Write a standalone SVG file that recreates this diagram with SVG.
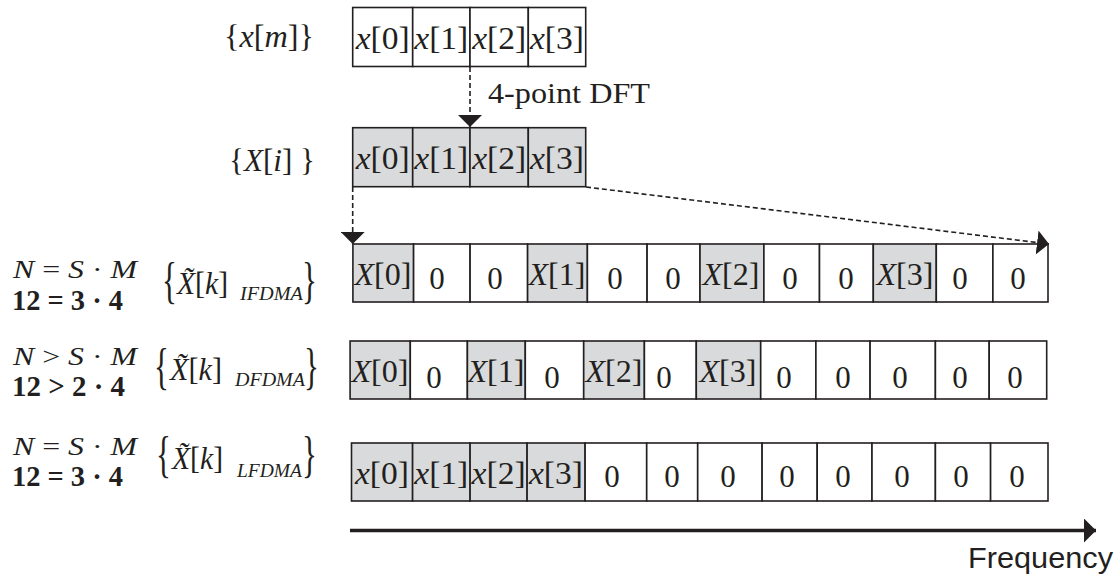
<svg xmlns="http://www.w3.org/2000/svg" width="1120" height="579" viewBox="0 0 1120 579">
<style>
text{font-family:"Liberation Serif","Times New Roman",serif;fill:#231f20}
.it{font-style:italic}
.cell{stroke:#231f20;stroke-width:1.6;fill:#ffffff}
.g{fill:#d9dadb}
.ct{font-size:31px;text-anchor:middle}
.zero{font-size:31px;text-anchor:middle}
.eq{font-size:26px}
.num{font-size:30px;font-weight:bold}
.br{font-size:50px}
.sub{font-size:18px;font-style:italic}
.dash{stroke:#231f20;stroke-width:1.6;stroke-dasharray:5 3;fill:none}
.freq{font-family:"Liberation Sans",Arial,sans-serif;font-size:29px}
</style>
<defs>
<marker id="ah" markerUnits="userSpaceOnUse" viewBox="0 0 12 24" refX="12" refY="12" markerWidth="12" markerHeight="24" orient="auto">
<path d="M0,0 L12,12 L0,24 z" fill="#231f20"/>
</marker>
</defs>

<g id="xm-label">
<text x="224" y="47" font-size="32" textLength="90" lengthAdjust="spacingAndGlyphs">{<tspan class="it">x</tspan>[<tspan class="it">m</tspan>]}</text>
</g>
<g id="xm-row">
<rect class="cell" x="352.7" y="7.5" width="60" height="59"/>
<rect class="cell" x="412.7" y="7.5" width="57.3" height="59"/>
<rect class="cell" x="470" y="7.5" width="58.3" height="59"/>
<rect class="cell" x="528.3" y="7.5" width="57.4" height="59"/>
<text class="ct" x="382.7" y="49" textLength="54" lengthAdjust="spacingAndGlyphs"><tspan class="it">x</tspan>[0]</text>
<text class="ct" x="441.3" y="49" textLength="54" lengthAdjust="spacingAndGlyphs"><tspan class="it">x</tspan>[1]</text>
<text class="ct" x="499.2" y="49" textLength="54" lengthAdjust="spacingAndGlyphs"><tspan class="it">x</tspan>[2]</text>
<text class="ct" x="557" y="49" textLength="54" lengthAdjust="spacingAndGlyphs"><tspan class="it">x</tspan>[3]</text>
</g>

<g id="dft-label">
<text x="488" y="103" font-size="29" textLength="162" lengthAdjust="spacingAndGlyphs">4-point DFT</text>
</g>

<g id="Xi-label">
<text x="229" y="171" font-size="32" textLength="86" lengthAdjust="spacingAndGlyphs">{<tspan class="it">X</tspan>[<tspan class="it">i</tspan>] }</text>
</g>
<g id="Xi-row">
<rect class="cell g" x="352.7" y="127.7" width="60" height="59"/>
<rect class="cell g" x="412.7" y="127.7" width="57.3" height="59"/>
<rect class="cell g" x="470" y="127.7" width="58.3" height="59"/>
<rect class="cell g" x="528.3" y="127.7" width="57.4" height="59"/>
<text class="ct" x="382.7" y="169" textLength="54" lengthAdjust="spacingAndGlyphs"><tspan class="it">x</tspan>[0]</text>
<text class="ct" x="441.3" y="169" textLength="54" lengthAdjust="spacingAndGlyphs"><tspan class="it">x</tspan>[1]</text>
<text class="ct" x="499.2" y="169" textLength="54" lengthAdjust="spacingAndGlyphs"><tspan class="it">x</tspan>[2]</text>
<text class="ct" x="557" y="169" textLength="54" lengthAdjust="spacingAndGlyphs"><tspan class="it">x</tspan>[3]</text>
</g>

<g id="ifdma-label">
<text class="eq" x="13" y="278" textLength="124" lengthAdjust="spacingAndGlyphs"><tspan class="it">N</tspan> = <tspan class="it">S</tspan> · <tspan class="it">M</tspan></text>
<text class="num" x="12" y="310" textLength="111" lengthAdjust="spacingAndGlyphs">12 = 3 · 4</text>
<text class="br" transform="translate(162,297) scale(0.62,1)">{</text>
<text x="177" y="294" font-size="31" textLength="51" lengthAdjust="spacingAndGlyphs"><tspan class="it">X&#x303;</tspan>[<tspan class="it">k</tspan>]</text>
<text class="sub" x="240" y="300" textLength="63" lengthAdjust="spacingAndGlyphs">IFDMA</text>
<text class="br" transform="translate(302,297) scale(0.62,1)">}</text>
</g>
<g id="ifdma-row">
<rect class="cell g" x="352.9" y="244" width="60.7" height="58"/>
<rect class="cell" x="413.6" y="244" width="56.5" height="58"/>
<rect class="cell" x="470.1" y="244" width="57.5" height="58"/>
<rect class="cell g" x="527.6" y="244" width="59.8" height="58"/>
<rect class="cell" x="587.4" y="244" width="59.7" height="58"/>
<rect class="cell" x="647.1" y="244" width="52.9" height="58"/>
<rect class="cell g" x="700" y="244" width="63.9" height="58"/>
<rect class="cell" x="763.9" y="244" width="55.6" height="58"/>
<rect class="cell" x="819.5" y="244" width="53.8" height="58"/>
<rect class="cell g" x="873.3" y="244" width="63" height="58"/>
<rect class="cell" x="936.3" y="244" width="56.6" height="58"/>
<rect class="cell" x="992.9" y="244" width="55.1" height="58"/>
<text class="ct" x="383" y="285" textLength="57" lengthAdjust="spacingAndGlyphs"><tspan class="it">X</tspan>[0]</text>
<text class="zero" x="437" y="289">0</text>
<text class="zero" x="495" y="289">0</text>
<text class="ct" x="557" y="285" textLength="57" lengthAdjust="spacingAndGlyphs"><tspan class="it">X</tspan>[1]</text>
<text class="zero" x="615" y="289">0</text>
<text class="zero" x="673" y="289">0</text>
<text class="ct" x="731" y="285" textLength="57" lengthAdjust="spacingAndGlyphs"><tspan class="it">X</tspan>[2]</text>
<text class="zero" x="790" y="289">0</text>
<text class="zero" x="846" y="289">0</text>
<text class="ct" x="905" y="285" textLength="57" lengthAdjust="spacingAndGlyphs"><tspan class="it">X</tspan>[3]</text>
<text class="zero" x="960" y="289">0</text>
<text class="zero" x="1018" y="289">0</text>
</g>

<g id="dfdma-label">
<text class="eq" x="13" y="365" textLength="124" lengthAdjust="spacingAndGlyphs"><tspan class="it">N</tspan> &gt; <tspan class="it">S</tspan> · <tspan class="it">M</tspan></text>
<text class="num" x="12" y="396" textLength="113" lengthAdjust="spacingAndGlyphs">12 &gt; 2 · 4</text>
<text class="br" transform="translate(154,383) scale(0.62,1)">{</text>
<text x="170" y="380" font-size="31" textLength="52" lengthAdjust="spacingAndGlyphs"><tspan class="it">X&#x303;</tspan>[<tspan class="it">k</tspan>]</text>
<text class="sub" x="235" y="386" textLength="70" lengthAdjust="spacingAndGlyphs">DFDMA</text>
<text class="br" transform="translate(304,383) scale(0.62,1)">}</text>
</g>
<g id="dfdma-row">
<rect class="cell g" x="350.1" y="341" width="60.2" height="58"/>
<rect class="cell" x="410.3" y="341" width="57.1" height="58"/>
<rect class="cell g" x="467.4" y="341" width="57.9" height="58"/>
<rect class="cell" x="525.3" y="341" width="58.4" height="58"/>
<rect class="cell g" x="583.7" y="341" width="60.7" height="58"/>
<rect class="cell" x="644.4" y="341" width="51.9" height="58"/>
<rect class="cell g" x="696.3" y="341" width="64.4" height="58"/>
<rect class="cell" x="760.7" y="341" width="55.2" height="58"/>
<rect class="cell" x="815.9" y="341" width="54.2" height="58"/>
<rect class="cell" x="870.1" y="341" width="65.3" height="58"/>
<rect class="cell" x="935.4" y="341" width="53.8" height="58"/>
<rect class="cell" x="989.2" y="341" width="57.5" height="58"/>
<text class="ct" x="380" y="382" textLength="57" lengthAdjust="spacingAndGlyphs"><tspan class="it">X</tspan>[0]</text>
<text class="zero" x="434" y="388">0</text>
<text class="ct" x="496" y="382" textLength="57" lengthAdjust="spacingAndGlyphs"><tspan class="it">X</tspan>[1]</text>
<text class="zero" x="552" y="388">0</text>
<text class="ct" x="614" y="382" textLength="57" lengthAdjust="spacingAndGlyphs"><tspan class="it">X</tspan>[2]</text>
<text class="zero" x="664" y="388">0</text>
<text class="ct" x="728" y="382" textLength="57" lengthAdjust="spacingAndGlyphs"><tspan class="it">X</tspan>[3]</text>
<text class="zero" x="784" y="388">0</text>
<text class="zero" x="843" y="388">0</text>
<text class="zero" x="900" y="388">0</text>
<text class="zero" x="960" y="388">0</text>
<text class="zero" x="1015" y="388">0</text>
</g>

<g id="lfdma-label">
<text class="eq" x="13" y="455" textLength="124" lengthAdjust="spacingAndGlyphs"><tspan class="it">N</tspan> = <tspan class="it">S</tspan> · <tspan class="it">M</tspan></text>
<text class="num" x="12" y="486" textLength="111" lengthAdjust="spacingAndGlyphs">12 = 3 · 4</text>
<text class="br" transform="translate(156,471) scale(0.62,1)">{</text>
<text x="172" y="469" font-size="31" textLength="51" lengthAdjust="spacingAndGlyphs"><tspan class="it">X&#x303;</tspan>[<tspan class="it">k</tspan>]</text>
<text class="sub" x="237" y="477" textLength="65" lengthAdjust="spacingAndGlyphs">LFDMA</text>
<text class="br" transform="translate(302,471) scale(0.62,1)">}</text>
</g>
<g id="lfdma-row">
<rect class="cell g" x="351.5" y="443" width="61.1" height="58"/>
<rect class="cell g" x="412.6" y="443" width="57.5" height="58"/>
<rect class="cell g" x="470.1" y="443" width="57" height="58"/>
<rect class="cell g" x="527.1" y="443" width="58" height="58"/>
<rect class="cell" x="585.1" y="443" width="61.6" height="58"/>
<rect class="cell" x="646.7" y="443" width="51" height="58"/>
<rect class="cell" x="697.7" y="443" width="64.4" height="58"/>
<rect class="cell" x="762.1" y="443" width="55.1" height="58"/>
<rect class="cell" x="817.2" y="443" width="54.8" height="58"/>
<rect class="cell" x="872" y="443" width="63.4" height="58"/>
<rect class="cell" x="935.4" y="443" width="55.2" height="58"/>
<rect class="cell" x="990.6" y="443" width="57.4" height="58"/>
<text class="ct" x="382" y="484" textLength="54" lengthAdjust="spacingAndGlyphs"><tspan class="it">x</tspan>[0]</text>
<text class="ct" x="441.3" y="484" textLength="54" lengthAdjust="spacingAndGlyphs"><tspan class="it">x</tspan>[1]</text>
<text class="ct" x="498.6" y="484" textLength="54" lengthAdjust="spacingAndGlyphs"><tspan class="it">x</tspan>[2]</text>
<text class="ct" x="556" y="484" textLength="54" lengthAdjust="spacingAndGlyphs"><tspan class="it">x</tspan>[3]</text>
<text class="zero" x="612" y="487">0</text>
<text class="zero" x="672" y="487">0</text>
<text class="zero" x="728" y="487">0</text>
<text class="zero" x="787" y="487">0</text>
<text class="zero" x="843" y="487">0</text>
<text class="zero" x="902" y="487">0</text>
<text class="zero" x="961" y="487">0</text>
<text class="zero" x="1017" y="487">0</text>
</g>

<g id="connectors">
<line class="dash" x1="470" y1="67" x2="470" y2="127" marker-end="url(#ah)"/>
<line class="dash" x1="352.7" y1="187" x2="352.7" y2="244" marker-end="url(#ah)"/>
<line class="dash" x1="586" y1="187" x2="1049" y2="244" marker-end="url(#ah)"/>
<line x1="350" y1="530.5" x2="1096" y2="530.5" stroke="#231f20" stroke-width="3.5" marker-end="url(#ah)"/>
</g>

<g id="freq-label">
<text class="freq" x="968" y="568" textLength="145" lengthAdjust="spacingAndGlyphs">Frequency</text>
</g>
</svg>
